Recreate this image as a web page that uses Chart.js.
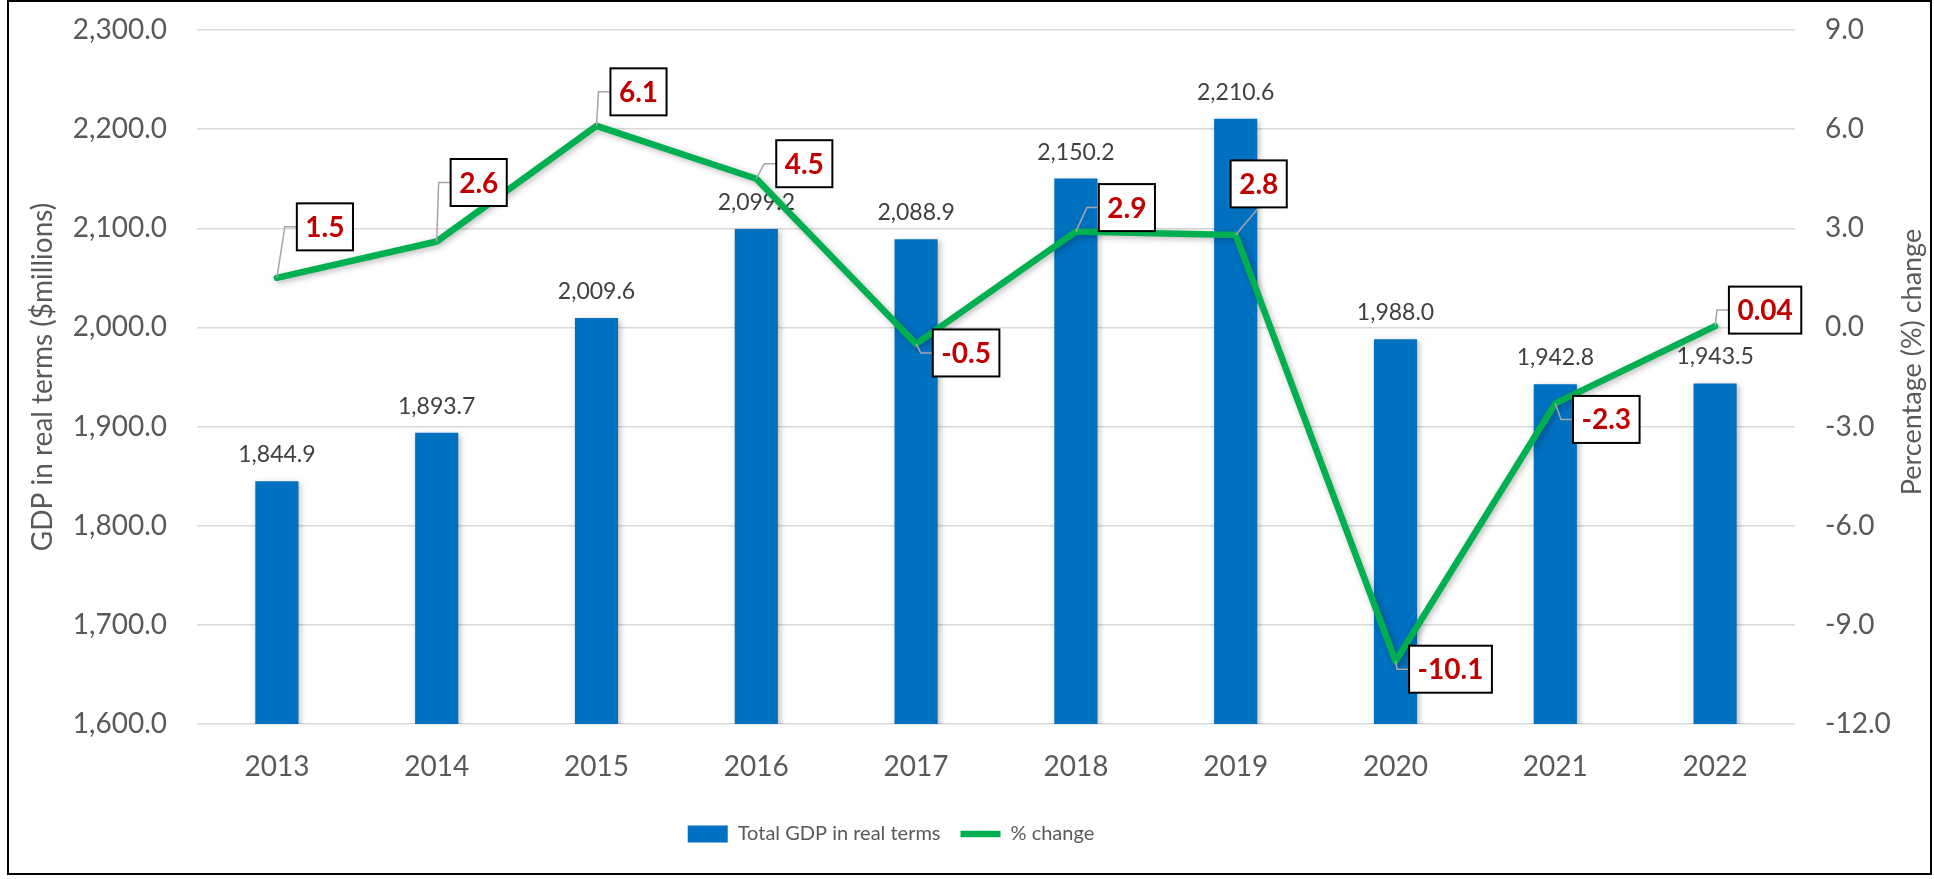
<!DOCTYPE html>
<html>
<head>
<meta charset="utf-8">
<script src="https://cdn.jsdelivr.net/npm/chart.js@4.4.1/dist/chart.umd.min.js"></script>
<style>
    html, body { margin: 0; padding: 0; background: #fff; }
    canvas { display: block; }
</style>
</head>
<body>
<canvas id="chart" width="1934" height="879" style="width:1934px;height:879px"></canvas>
<script>
const years = ["2013", "2014", "2015", "2016", "2017", "2018", "2019", "2020", "2021", "2022"];
const gdpReal = [1844.9, 1893.7, 2009.6, 2099.2, 2088.9, 2150.2, 2210.6, 1988.0, 1942.8, 1943.5];
const pctChange = [1.5, 2.6, 6.1, 4.5, -0.5, 2.9, 2.8, -10.1, -2.3, 0.04];
const pctLabels = ["1.5", "2.6", "6.1", "4.5", "-0.5", "2.9", "2.8", "-10.1", "-2.3", "0.04"];

// callout box centre, relative to its point (px)
const calloutDx = [48, 42, 42, 48, 50, 51, 23, 55, 51, 50];
const calloutDy = [-51, -59, -34, -15, 9, -24, -51, 8, 16, -16];

const FONT = "Lato, 'Open Sans', sans-serif";
const GREY = "#595959";

const shadowPlugin = {
    id: "shadow",
    beforeDatasetDraw(chart, args) {
        const ctx = chart.ctx;
        ctx.save();
        ctx.shadowColor = "rgba(0,0,0,0.28)";
        ctx.shadowBlur = 6;
        ctx.shadowOffsetX = 2;
        ctx.shadowOffsetY = 2;
    },
    afterDatasetDraw(chart, args) {
        chart.ctx.restore();
        if (args.index !== 0) return;
        // value labels above the bars
        const ctx = chart.ctx;
        ctx.save();
        ctx.font = "23px " + FONT;
        ctx.fillStyle = "#404040";
        ctx.textAlign = "center";
        ctx.textBaseline = "alphabetic";
        args.meta.data.forEach((bar, i) => {
            const txt = gdpReal[i].toLocaleString("en-US", { minimumFractionDigits: 1, maximumFractionDigits: 1 });
            ctx.fillText(txt, bar.x, bar.y - 19);
        });
        ctx.restore();
    }
};

const calloutPlugin = {
    id: "callouts",
    afterLayout(chart) {
        // legend sits a bit left of centre in the original
        chart.legend.right -= 152;
    },
    afterDatasetsDraw(chart) {
        const ctx = chart.ctx;
        const meta = chart.getDatasetMeta(1);
        ctx.save();
        ctx.font = "bold 28px " + FONT;
        meta.data.forEach((pt, i) => {
            const txt = pctLabels[i];
            const w = ctx.measureText(txt).width + 17;
            const h = 47;
            const cx = pt.x + calloutDx[i];
            const cy = pt.y + calloutDy[i];
            const left = cx - w / 2;
            const top = cy - h / 2;

            ctx.strokeStyle = "#A6A6A6";
            ctx.lineWidth = 1.5;
            ctx.beginPath();
            if (left > pt.x + 4) {
                ctx.moveTo(pt.x, pt.y);
                ctx.lineTo(left - 12, cy);
                ctx.lineTo(left, cy);
            } else {
                ctx.moveTo(pt.x, pt.y);
                ctx.lineTo(cx, top + h);
            }
            ctx.stroke();

            ctx.fillStyle = "#FFFFFF";
            ctx.fillRect(left, top, w, h);
            ctx.strokeStyle = "#000000";
            ctx.lineWidth = 2;
            ctx.strokeRect(left, top, w, h);

            ctx.fillStyle = "#C00000";
            ctx.textAlign = "center";
            ctx.textBaseline = "middle";
            ctx.fillText(txt, cx, cy + 1);
        });
        ctx.restore();
    }
};

const framePlugin = {
    id: "frame",
    beforeDraw(chart) {
        const ctx = chart.ctx;
        ctx.save();
        ctx.fillStyle = "#FFFFFF";
        ctx.fillRect(0, 0, chart.width, chart.height);
        ctx.restore();
    },
    afterDraw(chart) {
        const ctx = chart.ctx;
        const area = chart.chartArea;
        ctx.save();
        // right axis title, reading bottom to top like the left one
        ctx.font = "27px " + FONT;
        ctx.fillStyle = GREY;
        ctx.textAlign = "center";
        ctx.textBaseline = "middle";
        ctx.translate(1912, (area.top + area.bottom) / 2 - 15);
        ctx.rotate(-Math.PI / 2);
        ctx.fillText("Percentage (%) change", 0, 0);
        ctx.restore();

        ctx.save();
        ctx.strokeStyle = "#000000";
        ctx.lineWidth = 2;
        ctx.strokeRect(8, 1, 1923, 873);
        ctx.restore();
    }
};

const noTickPadding = scale => {
    scale.paddingTop = 0;
    scale.paddingBottom = 0;
};

const ctx = document.getElementById("chart").getContext("2d");

const chart = new Chart(ctx, {
    type: "bar",
    data: {
        labels: years,
        datasets: [{
            type: "bar",
            label: "Total GDP in real terms",
            data: gdpReal,
            yAxisID: "y",
            backgroundColor: "#0070C0",
            borderWidth: 0,
            barPercentage: 0.27,
            categoryPercentage: 1,
            pointStyle: "rect",
            order: 1
        }, {
            type: "line",
            label: "% change",
            data: pctChange,
            yAxisID: "y1",
            borderColor: "#00B050",
            backgroundColor: "#00B050",
            borderWidth: 6.5,
            borderJoinStyle: "round",
            borderCapStyle: "round",
            pointRadius: 0,
            pointStyle: "line",
            tension: 0,
            order: 0
        }]
    },
    options: {
        responsive: false,
        animation: false,
        devicePixelRatio: 1,
        layout: {
            padding: { top: 30, left: 0, right: 0, bottom: 25 }
        },
        plugins: {
            tooltip: { enabled: false },
            legend: {
                display: true,
                position: "bottom",
                labels: {
                    color: GREY,
                    usePointStyle: true,
                    pointStyleWidth: 40,
                    boxHeight: 17,
                    padding: 20,
                    font: { family: FONT, size: 20 },
                    sort: (a, b) => a.datasetIndex - b.datasetIndex
                }
            }
        },
        scales: {
            x: {
                grid: { display: false },
                border: { display: false },
                ticks: {
                    color: GREY,
                    padding: 18,
                    font: { family: FONT, size: 28 }
                },
                afterFit(scale) { scale.height = 80; }
            },
            y: {
                position: "left",
                min: 1600,
                max: 2300,
                grid: { color: "#D9D9D9", lineWidth: 1.5, drawTicks: false },
                border: { display: false },
                ticks: {
                    stepSize: 100,
                    color: GREY,
                    padding: 30,
                    font: { family: FONT, size: 28 },
                    callback: v => v.toLocaleString("en-US", { minimumFractionDigits: 1, maximumFractionDigits: 1 })
                },
                title: {
                    display: true,
                    text: "GDP in real terms ($millions)",
                    color: GREY,
                    padding: { top: 26, bottom: 0 },
                    font: { family: FONT, size: 28 }
                },
                afterFit(scale) {
                    scale.width = 197;
                    noTickPadding(scale);
                }
            },
            y1: {
                position: "right",
                min: -12,
                max: 9,
                grid: { display: false, drawTicks: false },
                border: { display: false },
                ticks: {
                    stepSize: 3,
                    color: GREY,
                    padding: 30,
                    font: { family: FONT, size: 28 },
                    callback: v => v.toFixed(1)
                },
                afterFit(scale) {
                    scale.width = 139;
                    noTickPadding(scale);
                }
            }
        }
    },
    plugins: [framePlugin, shadowPlugin, calloutPlugin]
});
</script>
</body>
</html>
